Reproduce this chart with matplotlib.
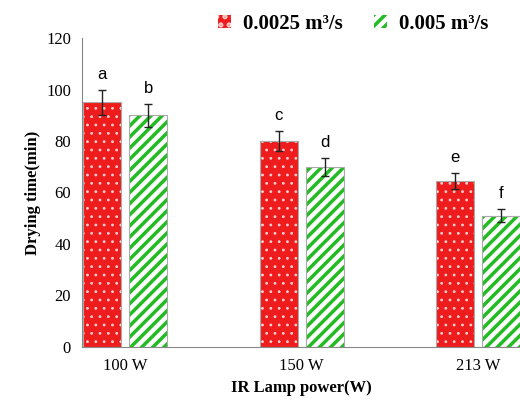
import matplotlib.pyplot as plt
import numpy as np
plt.rcParams['hatch.linewidth'] = 2.5

categories = ['100 W', '150 W', '213 W']
s1 = [95, 80, 64.5]
s2 = [90, 70, 51]
e1 = [5, 4, 3]
e2 = [4.5, 3.5, 2.5]
lab1 = ['a', 'c', 'e']
lab2 = ['b', 'd', 'f']

fig = plt.figure(figsize=(5.2, 4.18), dpi=100)
ax = fig.add_axes([0.158, 0.170, 0.842, 0.739])
x = np.arange(len(categories))
w = 0.215
off = 0.13
b1 = ax.bar(x - off, s1, w, color='#ee1c1c', edgecolor='#ffd0d0', hatch='..', linewidth=0, label='0.0025 m³/s')
b2 = ax.bar(x + off, s2, w, color='white', edgecolor='#22bb22', hatch='///', linewidth=0, label='0.005 m³/s')
for b in b1:
    if hasattr(b, 'set_hatch_linewidth'):
        b.set_hatch_linewidth(0.8)
for b in list(b1) + list(b2):
    ax.add_patch(plt.Rectangle(b.get_xy(), b.get_width(), b.get_height(), fill=False, edgecolor='#aaaaaa', lw=0.8))
ax.errorbar(x - off, s1, yerr=e1, fmt='none', ecolor='#222222', capsize=3, lw=1)
ax.errorbar(x + off, s2, yerr=e2, fmt='none', ecolor='#222222', capsize=3, lw=1)
for xi, v, e, l in zip(x - off, s1, e1, lab1):
    ax.text(xi, v + e + 3, l, ha='center', va='bottom', fontsize=12, family='Liberation Sans')
for xi, v, e, l in zip(x + off, s2, e2, lab2):
    ax.text(xi, v + e + 3, l, ha='center', va='bottom', fontsize=12, family='Liberation Sans')
ax.set_xlim(-0.244, 2.237)
ax.set_ylim(0, 120)
ax.set_yticks(range(0, 121, 20))
ax.set_xticks(x)
ax.set_xticklabels(categories, family='Liberation Serif', fontsize=12)
for t in ax.get_yticklabels():
    t.set_family('Liberation Serif'); t.set_fontsize(12)
ax.tick_params(length=0, pad=8)
for s in ['top', 'right']:
    ax.spines[s].set_visible(False)
ax.spines['left'].set_color('#888888')
ax.spines['bottom'].set_color('#888888')
ax.set_ylabel('Drying time(min)', family='Liberation Serif', fontweight='bold', fontsize=12)
ax.set_xlabel('IR Lamp power(W)', family='Liberation Serif', fontweight='bold', fontsize=12)
ax.legend(loc='upper center', bbox_to_anchor=(0.62, 1.14), ncol=2, frameon=False,
          prop={'family': 'Liberation Serif', 'weight': 'bold', 'size': 15},
          handlelength=0.6, handleheight=0.6, columnspacing=1.5, handletextpad=0.6)
fig.savefig('out.png')
